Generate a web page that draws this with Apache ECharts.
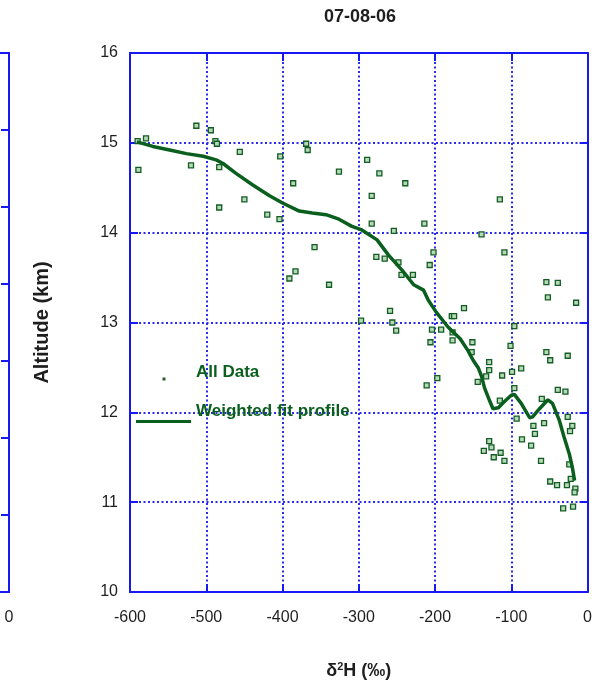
<!DOCTYPE html>
<html>
<head>
<meta charset="utf-8">
<script src="https://cdn.jsdelivr.net/npm/echarts@6/dist/echarts.min.js"></script>
<style>
  html, body { margin: 0; padding: 0; background: #ffffff; }
  #chart { width: 595px; height: 685px; }
</style>
</head>
<body>
<div id="chart"></div>
<script>
// Flight 07-08-06: water isotope (δ2H) versus altitude
const titleText = '07-08-06';
const xTicks = { min: -600, max: 0, step: 100 };
const yTicks = { min: 10, max: 16, step: 1 };

// Individual measurements (δ2H in permil, altitude in km)
const dataDelta = [
  -590, -579, -589, -513, -494, -488, -486, -520, -483, -456, -483, -450, -420, -404,
  -403, -386, -369, -367, -326, -289, -358, -383, -391, -339,
  -273, -239, -283, -283, -254, -214, -115, -139, -109, -202, -277, -266, -248, -207,
  -244, -229, -259, -297, -256, -251, -204, -192, -206, -178, -175, -162, -177, -177,
  -151, -152, -197, -96, -101, -54, -39, -52, -15, -54, -49, -26, -129, -129, -112,
  -87, -99, -133, -144, -211, -115, -96, -93, -60, -39, -29, -71, -57, -26, -20, -23,
  -69, -86, -74, -61, -129, -126, -136, -114, -123, -109, -24, -49, -40, -27, -22,
  -16, -17, -32, -19
];
const dataAlt = [
  15.02, 15.05, 14.70, 15.19, 15.14, 15.02, 14.99, 14.75, 14.73, 14.90, 14.28, 14.37, 14.20, 14.15,
  14.85, 14.55, 14.99, 14.92, 14.68, 14.81, 13.84, 13.57, 13.49, 13.42,
  14.66, 14.55, 14.41, 14.10, 14.02, 14.10, 14.37, 13.98, 13.78, 13.78, 13.73, 13.71, 13.67, 13.64,
  13.53, 13.53, 13.13, 13.02, 13.00, 12.91, 12.92, 12.92, 12.78, 13.07, 13.07, 13.16, 12.89, 12.80,
  12.78, 12.67, 12.38, 12.96, 12.74, 13.45, 13.44, 13.28, 13.22, 12.67, 12.58, 12.63, 12.56, 12.47, 12.41,
  12.49, 12.45, 12.40, 12.34, 12.30, 12.13, 12.27, 11.93, 12.15, 12.25, 12.23, 11.85, 11.88, 11.95, 11.85, 11.79,
  11.76, 11.70, 11.63, 11.46, 11.68, 11.61, 11.57, 11.55, 11.50, 11.46, 11.42, 11.23, 11.19, 11.19, 11.26,
  11.15, 11.11, 10.93, 10.95
];

// Weighted fit profile
const fitDelta = [
  -591, -570, -548, -526, -504, -487, -478, -461, -439, -417, -400, -378, -361, -343,
  -326, -309, -296, -276, -261, -243, -228, -215, -209, -198, -183, -167, -157, -150,
  -143, -139, -135, -128, -124, -117, -109, -100, -96, -87, -76, -72, -63, -52, -46,
  -37, -31, -24, -20, -17
];
const fitAlt = [
  15.01, 14.96, 14.92, 14.88, 14.85, 14.81, 14.77, 14.66, 14.53, 14.41, 14.33, 14.24, 14.22, 14.20,
  14.15, 14.07, 14.03, 13.92, 13.75, 13.58, 13.42, 13.36, 13.25, 13.11, 12.95, 12.82, 12.69, 12.58,
  12.49, 12.40, 12.27, 12.12, 12.04, 12.05, 12.12, 12.19, 12.20, 12.10, 11.94, 11.95, 12.04, 12.14, 12.10,
  11.91, 11.73, 11.54, 11.39, 11.24
];

const FRAME = '#1818f2';
const GRID_DOT = '#2b2bee';
const GREEN = '#0a5f1e';
const FONT = '"Liberation Sans", Arial, sans-serif';
const TEXT = '#1e1e1e';

const scatterPts = dataDelta.map((d, i) => [d, dataAlt[i]]);
const fitPts = fitDelta.map((d, i) => [d, fitAlt[i]]);

// legend glyphs: a small dot / a thick bar sitting below the middle of the label line
const DOT_ICON = 'path://M0,0h0.05v0.05h-0.05z M54.95,19.95h0.05v0.05h-0.05z M26.5,15.5h3v3h-3z';
const BAR_ICON = 'path://M0,0h0.05v0.05h-0.05z M0,21.5h56v3h-56z M55.95,24.95h0.05v0.05h-0.05z';

const tickStyle = { show: true, inside: true, length: 8, lineStyle: { color: FRAME, width: 2 } };
const lineStyleFrame = { show: true, onZero: false, lineStyle: { color: FRAME, width: 2 } };

function frameAxis(extra) {
  return Object.assign({
    type: 'value',
    axisLine: lineStyleFrame,
    axisTick: tickStyle,
    axisLabel: { show: false },
    splitLine: { show: false }
  }, extra);
}

const chart = echarts.init(document.getElementById('chart'), null, { renderer: 'canvas' });
chart.setOption({
  backgroundColor: '#ffffff',
  animation: false,
  title: {
    text: titleText,
    left: 355, top: 3, textAlign: 'center',
    textStyle: { fontFamily: FONT, fontSize: 18, fontWeight: 'bold', color: TEXT }
  },
  legend: [
    {
      left: 136, top: 362, padding: 0, orient: 'vertical',
      itemWidth: 55, itemHeight: 20, selectedMode: false,
      data: [{ name: 'All Data', icon: DOT_ICON, itemStyle: { color: '#2d5a2d', borderWidth: 0 } }],
      textStyle: { fontFamily: FONT, fontSize: 17, fontWeight: 'bold', color: GREEN }
    },
    {
      left: 136, top: 399, padding: 0, orient: 'vertical',
      itemWidth: 55, itemHeight: 25, selectedMode: false,
      data: [{ name: 'Weighted fit profile', icon: BAR_ICON, itemStyle: { color: GREEN, borderWidth: 0 } }],
      textStyle: { fontFamily: FONT, fontSize: 17, fontWeight: 'bold', color: GREEN }
    }
  ],
  grid: [
    { left: 130, top: 53, width: 459, height: 539, containLabel: false },
    { left: 0, top: 53, width: 9, height: 539, containLabel: false }
  ],
  xAxis: [
    {
      type: 'value', gridIndex: 0, position: 'bottom',
      min: xTicks.min, max: xTicks.max, interval: xTicks.step,
      name: '{d|δ}{s|2}{d|H (‰)}', nameLocation: 'middle', nameGap: 69,
      nameTextStyle: {
        rich: {
          d: { fontFamily: FONT, fontSize: 18, fontWeight: 'bold', color: TEXT },
          s: { fontFamily: FONT, fontSize: 11, fontWeight: 'bold', color: TEXT, verticalAlign: 'top', padding: [0, 0, 9, 0] }
        }
      },
      axisLine: lineStyleFrame,
      axisTick: tickStyle,
      axisLabel: { fontFamily: FONT, fontSize: 16, color: TEXT, margin: 18 },
      splitLine: { show: true, lineStyle: { color: GRID_DOT, width: 2, type: [2, 2.5] } }
    },
    frameAxis({ gridIndex: 0, position: 'top', min: xTicks.min, max: xTicks.max, interval: xTicks.step }),
    {
      type: 'value', gridIndex: 1, position: 'bottom',
      min: -20, max: 0, interval: 20,
      axisLine: lineStyleFrame,
      axisTick: { show: false },
      axisLabel: { fontFamily: FONT, fontSize: 16, color: TEXT, margin: 18, showMinLabel: false },
      splitLine: { show: false }
    },
    {
      type: 'value', gridIndex: 1, position: 'top', min: -20, max: 0, interval: 20,
      axisLine: lineStyleFrame, axisTick: { show: false }, axisLabel: { show: false }, splitLine: { show: false }
    }
  ],
  yAxis: [
    {
      type: 'value', gridIndex: 0, position: 'left',
      min: yTicks.min, max: yTicks.max, interval: yTicks.step,
      name: 'Altitude (km)', nameLocation: 'middle', nameGap: 78, nameRotate: 90,
      nameTextStyle: { fontFamily: FONT, fontSize: 20, fontWeight: 'bold', color: TEXT },
      axisLine: lineStyleFrame,
      axisTick: tickStyle,
      axisLabel: { fontFamily: FONT, fontSize: 16, color: TEXT, margin: 12 },
      splitLine: { show: true, lineStyle: { color: GRID_DOT, width: 2, type: [2, 2.5] } }
    },
    frameAxis({ gridIndex: 0, position: 'right', min: yTicks.min, max: yTicks.max, interval: yTicks.step }),
    frameAxis({ gridIndex: 1, position: 'right', min: 0, max: 7, interval: 1 })
  ],
  series: [
    {
      name: 'All Data', type: 'scatter', xAxisIndex: 0, yAxisIndex: 0,
      symbol: 'rect', symbolSize: 5,
      itemStyle: { color: '#b5dab5', borderColor: '#145c26', borderWidth: 1.3, opacity: 1 },
      data: scatterPts, z: 3
    },
    {
      name: 'Weighted fit profile', type: 'line', xAxisIndex: 0, yAxisIndex: 0,
      showSymbol: false, symbol: 'none', smooth: false,
      lineStyle: { color: GREEN, width: 3.5 },
      itemStyle: { color: GREEN },
      data: fitPts, z: 4
    }
  ]
});
</script>
</body>
</html>
